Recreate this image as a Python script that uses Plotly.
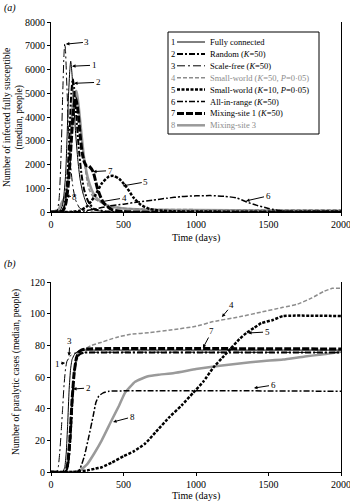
import plotly.graph_objects as go

# ---------------- DATA ----------------
# Panel (a): number of infected fully susceptible (median, people) vs time (days)
a1_days = [0, 60, 80, 100, 110, 120, 130, 136, 145, 155, 170, 185, 200, 220, 250, 300, 400, 2000]
a1_vals = [0, 50, 300, 1500, 3000, 4800, 6000, 6350, 5800, 4700, 3300, 2200, 1400, 800, 300, 80, 10, 0]
a2_days = [0, 70, 90, 110, 125, 140, 150, 160, 175, 190, 210, 230, 260, 300, 400, 2000]
a2_vals = [0, 30, 200, 1200, 3000, 5000, 5600, 5200, 4000, 2800, 1600, 900, 400, 120, 20, 0]
a3_days = [0, 40, 55, 70, 80, 90, 95, 100, 110, 120, 135, 150, 170, 200, 250, 2000]
a3_vals = [0, 50, 500, 2500, 4800, 6700, 7100, 6800, 5200, 3600, 2000, 1100, 500, 150, 20, 0]
a4_days = [0, 80, 100, 120, 140, 160, 175, 190, 210, 230, 260, 300, 340, 400, 500, 700, 1000, 1500, 2000]
a4_vals = [0, 50, 300, 1200, 2800, 4400, 4900, 4400, 3200, 2100, 1000, 560, 420, 260, 160, 110, 100, 100, 100]
a5_days = [0, 150, 200, 250, 300, 350, 400, 430, 470, 520, 570, 620, 680, 750, 850, 1000, 1500, 2000]
a5_vals = [0, 10, 60, 250, 650, 1200, 1500, 1520, 1400, 1050, 600, 300, 130, 60, 30, 20, 10, 10]
a6_days = [0, 200, 300, 400, 500, 600, 700, 800, 900, 1000, 1100, 1200, 1280, 1350, 1420, 1500, 1600, 2000]
a6_vals = [0, 20, 120, 250, 330, 420, 500, 580, 650, 680, 690, 660, 590, 420, 280, 150, 40, 20]
a7_days = [0, 80, 100, 120, 140, 155, 170, 185, 200, 215, 230, 245, 260, 290, 320, 360, 420, 500, 2000]
a7_vals = [0, 40, 300, 1200, 3000, 4300, 4800, 4300, 3300, 2500, 2100, 1950, 1950, 1700, 1000, 400, 100, 20, 0]
a8_days = [0, 50, 75, 100, 120, 140, 160, 175, 190, 210, 230, 260, 300, 350, 400, 500, 700, 1000, 1500, 2000]
a8_vals = [0, 100, 400, 700, 1500, 3500, 5000, 5100, 4500, 3300, 2200, 1300, 700, 400, 250, 150, 100, 80, 60, 50]

# Panel (b): number of paralytic cases (median, people) vs time (days)
b1_days = [0, 80, 95, 105, 115, 125, 135, 145, 160, 180, 210, 250, 2000]
b1_vals = [0, 0, 3, 12, 30, 52, 65, 71, 74, 76, 77, 77, 77]
b2_days = [0, 100, 115, 125, 135, 145, 152, 160, 170, 185, 200, 230, 260, 2000]
b2_vals = [0, 0, 3, 10, 22, 40, 53, 62, 69, 73, 74.5, 75.5, 75.5, 75.5]
b3_days = [0, 40, 50, 60, 70, 80, 90, 100, 110, 124, 140, 160, 200, 2000]
b3_vals = [0, 0, 3, 12, 25, 40, 55, 65, 70, 72, 74, 75, 75.5, 75.5]
b4_days = [0, 95, 110, 125, 140, 155, 170, 190, 210, 240, 280, 350, 450, 550, 680, 850, 1000, 1120, 1300, 1450,
           1600, 1700, 1800, 1880, 1940, 2000]
b4_vals = [0, 0, 5, 20, 42, 60, 70, 75, 77, 78, 80, 82, 85, 87, 88, 90, 92, 95, 98, 101,
           104, 106, 110, 114, 116, 116]
b5_days = [0, 150, 250, 300, 350, 420, 500, 570, 650, 720, 820, 900, 980, 1050, 1120, 1180, 1240, 1300, 1350,
           1400, 1450, 1530, 1600, 2000]
b5_vals = [0, 0, 1, 2, 3, 6, 10, 13, 18, 25, 35, 42, 50, 57, 66, 72, 78, 84, 88,
           91, 94, 96, 98.5, 98.5]
b6_days = [0, 180, 200, 230, 260, 290, 310, 330, 360, 400, 2000]
b6_vals = [0, 0, 2, 10, 22, 35, 44, 48, 50, 51, 51]
b7_days = [0, 100, 115, 130, 145, 160, 175, 190, 210, 240, 2000]
b7_vals = [0, 0, 5, 20, 45, 63, 72, 75.5, 77, 77.7, 77.7]
b8_days = [0, 150, 200, 250, 300, 350, 420, 470, 510, 580, 670, 750, 850, 1000, 1150, 1300, 1450, 1600, 1750,
           1850, 2000]
b8_vals = [0, 0, 1, 5, 12, 20, 33, 42, 50, 57, 60.5, 61.5, 62.5, 65, 67, 68.5, 70, 71, 73, 74, 76]

series_labels = ["1", "2", "3", "4", "5", "6", "7", "8"]
legend_names = ["Fully connected", "Random (<i>K</i>=50)", "Scale-free (<i>K</i>=50)",
                "Small-world (<i>K</i>=50, <i>P</i>=0·05)", "Small-world (<i>K</i>=10, <i>P</i>=0·05)",
                "All-in-range (<i>K</i>=50)", "Mixing-site 1 (<i>K</i>=50)", "Mixing-site 3"]

a_y_ticks = [0, 1000, 2000, 3000, 4000, 5000, 6000, 7000, 8000]
b_y_ticks = [0, 20, 40, 60, 80, 100, 120]
x_ticks = [0, 500, 1000, 1500, 2000]

# ---------------- STYLES ----------------
GRAY = "#8c8c8c"
styles = [
    dict(color="black", width=1, dash="solid"),
    dict(color="black", width=2, dash="6px,2px,2px,2px"),
    dict(color="black", width=1, dash="8px,3px,2px,3px"),
    dict(color=GRAY, width=1.5, dash="4px,2px"),
    dict(color="black", width=2.5, dash="3px,1.5px"),
    dict(color="black", width=1.5, dash="6px,2px,2px,2px"),
    dict(color="black", width=3, dash="7px,2px"),
    dict(color="#9a9a9a", width=2.5, dash="solid"),
]
text_colors = ["black", "black", "black", GRAY, "black", "black", "black", GRAY]

a_series = [(a1_days, a1_vals), (a2_days, a2_vals), (a3_days, a3_vals), (a4_days, a4_vals),
            (a5_days, a5_vals), (a6_days, a6_vals), (a7_days, a7_vals), (a8_days, a8_vals)]
b_series = [(b1_days, b1_vals), (b2_days, b2_vals), (b3_days, b3_vals), (b4_days, b4_vals),
            (b5_days, b5_vals), (b6_days, b6_vals), (b7_days, b7_vals), (b8_days, b8_vals)]

W, H = 350, 501
FONT = "Liberation Serif"

fig = go.Figure()
# draw order: gray ones first so black stay on top
order = [7, 3, 5, 4, 6, 1, 2, 0]
for i in order:
    d, v = a_series[i]
    fig.add_trace(go.Scatter(x=d, y=v, mode="lines", line=dict(shape="spline", smoothing=0.6, **styles[i]),
                             showlegend=False, xaxis="x", yaxis="y", name=legend_names[i], cliponaxis=False))
for i in order:
    d, v = b_series[i]
    fig.add_trace(go.Scatter(x=d, y=v, mode="lines", line=dict(shape="spline", smoothing=0.4, **styles[i]),
                             showlegend=False, xaxis="x2", yaxis="y2", name=legend_names[i], cliponaxis=False))

def px2paper(px, py):
    return px / W, 1 - py / H

x_dom = [51 / W, 341 / W]
ya_dom = [1 - 212 / H, 1 - 22 / H]
yb_dom = [1 - 472 / H, 1 - 282 / H]

axis_common = dict(showline=True, linecolor="black", linewidth=1, ticks="outside", ticklen=3,
                   tickcolor="black", showgrid=False, zeroline=False, automargin=False,
                   ticklabeloverflow="allow",
                   tickfont=dict(family=FONT, size=10, color="black"))

fig.update_layout(
    width=W, height=H, margin=dict(l=0, r=0, t=0, b=0, autoexpand=False),
    paper_bgcolor="white", plot_bgcolor="white",
    font=dict(family=FONT, size=10, color="black"),
    xaxis=dict(domain=x_dom, range=[0, 2000], tickvals=x_ticks, anchor="y", **axis_common),
    yaxis=dict(domain=ya_dom, range=[0, 8000], tickvals=a_y_ticks, anchor="x", mirror=True, **axis_common),
    xaxis2=dict(domain=x_dom, range=[0, 2000], tickvals=x_ticks, anchor="y2", **axis_common),
    yaxis2=dict(domain=yb_dom, range=[0, 120], tickvals=b_y_ticks, anchor="x2", mirror=True, **axis_common),
)

ann = []
shapes = []
# panel letters
ann.append(dict(text="<i>(a)</i>", x=2 / W, y=1 - 8 / H, xref="paper", yref="paper", xanchor="left",
                yanchor="middle", showarrow=False, font=dict(family=FONT, size=10)))
ann.append(dict(text="<i>(b)</i>", x=2 / W, y=1 - 264 / H, xref="paper", yref="paper", xanchor="left",
                yanchor="middle", showarrow=False, font=dict(family=FONT, size=10)))
# axis titles
for ty in (238, 496):
    ann.append(dict(text="Time (days)", x=196 / W, y=1 - ty / H, xref="paper", yref="paper",
                    xanchor="center", yanchor="middle",
                    showarrow=False, font=dict(family=FONT, size=10)))
ann.append(dict(text="Number of infected fully susceptible<br>(median, people)", x=13 / W, y=1 - 118 / H,
                xref="paper", yref="paper", showarrow=False, textangle=-90,
                xanchor="center", yanchor="middle",
                font=dict(family=FONT, size=9.5)))
ann.append(dict(text="Number of paralytic cases (median, people)", x=16 / W, y=1 - 372 / H,
                xref="paper", yref="paper", showarrow=False, textangle=-90,
                xanchor="center", yanchor="middle",
                font=dict(family=FONT, size=9.5)))

# curve labels with arrows: (label, tip day, tip value, ax, ay)
a_marks = [("3", 103, 7069, 21, -2), ("1", 145, 6138, 22, -1), ("2", 159, 5418, 24, -1),
           ("7", 290, 1700, 17, -1), ("5", 495, 1100, 23, -4), ("4", 338, 423, 24, -4),
           ("8", 103, 677, 9, 1), ("6", 1345, 466, 22, -5)]
b_marks = [("3", 124, 73.3, 1, -15), ("1", 97, 68.9, -8, 1), ("2", 152, 52.4, 15, -1),
           ("8", 428, 31.6, 19, -5), ("4", 1179, 97.9, 10, -12), ("7", 1048, 78.3, 9, -17),
           ("5", 1359, 87.8, 19, -1), ("6", 1400, 53, 19, -3)]
for lab, dx, vy, ax, ay in a_marks:
    ann.append(dict(text=lab, x=dx, y=vy, xref="x", yref="y", ax=ax, ay=ay, showarrow=True,
                    arrowhead=2, arrowsize=0.7, arrowwidth=1, arrowcolor="black",
                    font=dict(family=FONT, size=9)))
for lab, dx, vy, ax, ay in b_marks:
    ann.append(dict(text=lab, x=dx, y=vy, xref="x2", yref="y2", ax=ax, ay=ay, showarrow=True,
                    arrowhead=2, arrowsize=0.7, arrowwidth=1, arrowcolor="black",
                    font=dict(family=FONT, size=9)))

# custom legend box
bx0, by0 = px2paper(168, 32)
bx1, by1 = px2paper(319, 134)
shapes.append(dict(type="rect", xref="paper", yref="paper", x0=bx0, y0=by1, x1=bx1, y1=by0,
                   line=dict(color="black", width=1), fillcolor="white", layer="above"))
for k in range(8):
    ry = 42 + k * 11.9
    nx, ny = px2paper(173, ry)
    ann.append(dict(text=series_labels[k], x=nx, y=ny, xref="paper", yref="paper", showarrow=False,
                    xanchor="center", yanchor="middle",
                    font=dict(family=FONT, size=8.5, color=text_colors[k])))
    lx0, ly = px2paper(177, ry)
    lx1, _ = px2paper(205, ry)
    st = styles[k]
    shapes.append(dict(type="line", xref="paper", yref="paper", x0=lx0, x1=lx1, y0=ly, y1=ly,
                       line=dict(color=st["color"], width=st["width"], dash=st["dash"]), layer="above"))
    tx, ty = px2paper(208, ry)
    ann.append(dict(text=legend_names[k], x=tx, y=ty, xref="paper", yref="paper", showarrow=False,
                    xanchor="left", yanchor="middle",
                    font=dict(family=FONT, size=8.5, color=text_colors[k])))

fig.update_layout(annotations=ann, shapes=shapes)
fig.write_html("out.html", config={"displayModeBar": False},
               post_script="document.body.style.margin='0';document.body.style.overflow='hidden';")
